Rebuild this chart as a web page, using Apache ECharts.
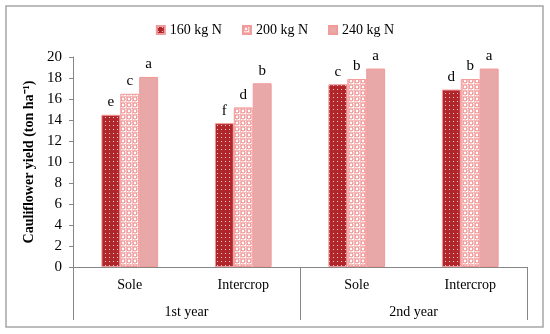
<!DOCTYPE html>
<html><head><meta charset="utf-8">
<script src="https://cdn.jsdelivr.net/npm/echarts@6/dist/echarts.min.js"></script>
<style>html,body{margin:0;padding:0;background:#fff}#c{width:550px;height:334px}</style>
</head><body><div id="c"></div>
<script>
const categories = ['Sole','Intercrop','Sole','Intercrop'];
const years = ['1st year','2nd year'];
const seriesNames = ['160 kg N','200 kg N','240 kg N'];
const n160 = [14.5, 13.7, 17.4, 16.9];
const n200 = [16.5, 15.2, 17.9, 17.9];
const n240 = [18.1, 17.5, 18.9, 18.9];
const let160 = ['e','f','c','d'];
const let200 = ['c','d','b','b'];
const let240 = ['a','b','a','a'];
const yTicks = [0,2,4,6,8,10,12,14,16,18,20];

function patDots(){
  const c=document.createElement('canvas');c.width=4;c.height=4;
  const g=c.getContext('2d');g.fillStyle='#b0262b';g.fillRect(0,0,4,4);
  g.fillStyle='#f3d0d0';g.fillRect(1,1,1,1);
  return c;
}
function patRings(){
  const c=document.createElement('canvas');c.width=6;c.height=6;
  const g=c.getContext('2d');g.fillStyle='#fff';g.fillRect(0,0,6,6);
  g.strokeStyle='#ee8c8c';g.lineWidth=1.2;
  g.beginPath();g.arc(3,3,2,0,Math.PI*2);g.stroke();
  g.fillStyle='#f6b8b8';g.fillRect(0,0,1,6);g.fillRect(0,0,6,1);
  return c;
}
const font = 'Liberation Serif';
const ch = echarts.init(document.getElementById('c'));
function mk(name, data, letters, color){
  return {name, type:'bar', data, barGap:'0%', barCategoryGap:'50%',
    itemStyle:{color, borderColor:'#f29a9a', borderWidth:1},
    label:{show:true, position:'top', distance:5, fontFamily:font, fontSize:15, color:'#000',
      formatter:p=>letters[p.dataIndex]}};
}
ch.setOption({
  animation:false,
  textStyle:{fontFamily:font},
  graphic:[{type:'rect', shape:{x:6,y:6,width:537,height:321}, style:{fill:'none', stroke:'#a6a6a6', lineWidth:1.5}}],
  legend:{top:18, left:'center', icon:'rect', itemWidth:8, itemHeight:8, itemGap:20,
    textStyle:{fontFamily:font, fontSize:14, color:'#000'}, data:seriesNames},
  grid:{left:73, right:23, top:57, bottom:67},
  xAxis:[
    {type:'category', data:categories, axisLine:{lineStyle:{color:'#868686', width:1}},
     axisTick:{show:false}, axisLabel:{fontFamily:font, fontSize:14, color:'#000', margin:11}},
    {type:'category', data:years, position:'bottom', axisLine:{show:false},
     axisTick:{show:true, length:53, lineStyle:{color:'#868686'}},
     axisLabel:{fontFamily:font, fontSize:14, color:'#000', margin:38}}
  ],
  yAxis:{type:'value', min:yTicks[0], max:yTicks[yTicks.length-1], interval:2,
    name:'Cauliflower yield (ton ha⁻¹)', nameLocation:'middle', nameGap:36,
    nameTextStyle:{fontFamily:font, fontSize:14, fontWeight:'bold', color:'#000'},
    axisLine:{show:true, lineStyle:{color:'#868686'}}, axisTick:{show:true, length:4, lineStyle:{color:'#868686'}},
    splitLine:{show:false}, axisLabel:{fontFamily:font, fontSize:15, color:'#000', margin:11}},
  series:[
    mk(seriesNames[0], n160, let160, {image:patDots(), repeat:'repeat'}),
    mk(seriesNames[1], n200, let200, {image:patRings(), repeat:'repeat'}),
    mk(seriesNames[2], n240, let240, '#e9a8a8')
  ]
});
</script></body></html>
